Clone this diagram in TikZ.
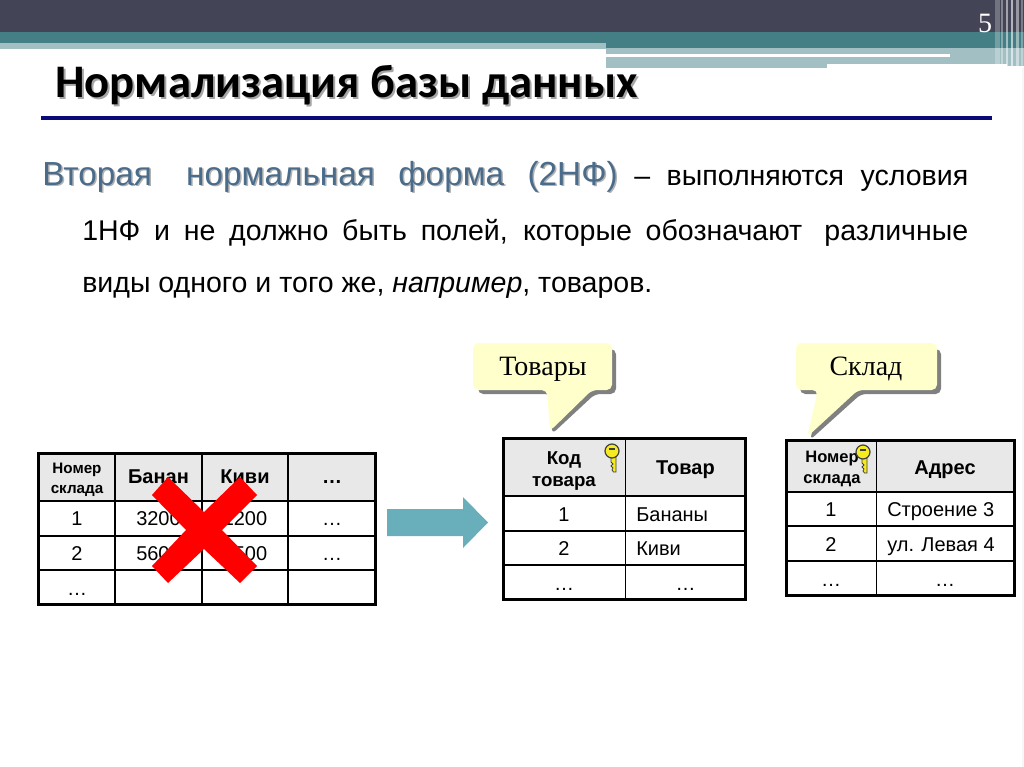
\documentclass[tikz,border=0pt]{standalone}
\usepackage{fontspec}
\setmainfont{Liberation Sans}
\newfontfamily\titlefont{Carlito}
\newfontfamily\serifcyr{Liberation Serif}
\definecolor{darkbar}{HTML}{434557}
\definecolor{tealbar}{HTML}{457F86}
\definecolor{lightteal}{HTML}{A2BFC3}
\definecolor{navyrule}{HTML}{0A0A78}
\definecolor{headtext}{HTML}{4A6C8A}
\definecolor{headfill}{HTML}{E8E8E8}
\definecolor{callfill}{HTML}{FFFFCC}
\definecolor{arrowteal}{HTML}{68AEBB}
\definecolor{keyyellow}{HTML}{F6EA20}
\newcommand{\headsize}{\fontsize{25}{27}\selectfont}
\newcommand{\headwords}{Вторая\hspace{.45em} нормальная\hspace{.12em} форма\hspace{.12em} (2НФ)}
\tikzset{
  x=0.75pt,y=-0.75pt,
  txt/.style={inner sep=0pt,anchor=base},
  cellb/.style={txt,font=\fontsize{15}{17}\selectfont\bfseries},
  cellhb/.style={txt,font=\fontsize{14}{16}\selectfont\bfseries},
  cellr/.style={txt,font=\fontsize{15}{17}\selectfont},
  cellsm/.style={txt,font=\fontsize{11.4}{13}\selectfont\bfseries},
  cellmd/.style={txt,font=\fontsize{12.4}{14}\selectfont\bfseries},
  bodyl/.style={inner sep=0pt,anchor=base west,font=\fontsize{21.4}{24}\selectfont},
  titlet/.style={inner sep=0pt,anchor=base west,font=\titlefont\bfseries\fontsize{35}{38}\selectfont},
  outer/.style={draw=black,line width=2.1pt},
  inner/.style={draw=black,line width=.9pt},
  callout/.style={fill=callfill},
  callshadow/.style={fill=black!50},
  callt/.style={txt,font=\serifcyr\fontsize{21}{24}\selectfont},
}
\newcommand{\keyglyph}[2]{%
  \begin{scope}[shift={(#1,#2)}]
    \draw[black!75,fill=keyyellow,line width=.6pt] (-1,6) -- (4,6) -- (4,21) -- (1.5,21) -- (0,19) -- (1,17) -- (-1,15) -- (1,13) -- (-1,11) -- cycle;
    \draw[black!75,fill=keyyellow,line width=.9pt] (0,0) ellipse (7 and 7);
    \fill[black!75] (-3,-3) rectangle (3,-1.5);
  \end{scope}}
\begin{document}
\begin{tikzpicture}
\useasboundingbox (0,0) rectangle (1024,767);
\fill[white] (0,0) rectangle (1024,767);
\fill[black!3] (1022,68) rectangle (1024,767);
% header bars
\fill[darkbar] (0,0) rectangle (1024,32);
\fill[tealbar] (0,32) rectangle (1024,48);
\fill[lightteal] (0,43) rectangle (606,49);
\fill[lightteal] (606,48) rectangle (1024,68);
\fill[white] (606,54) rectangle (950,57);
\fill[white] (827,64) rectangle (1007,68);
\fill[white] (1007,66) rectangle (1024,68);
\foreach \xx/\ww/\op in {995/5/.25,1001/2/.35,1006/2/.5,1011/2/.6,1016/3/.45,1021/2/.3}
  \fill[white,opacity=\op] (\xx,0) rectangle ++(\ww,66);
\node[txt,text=white,font=\serifcyr\fontsize{21}{23}\selectfont] (pagenum) at (985,33) {5};
% title
\node[titlet,text=black!35] (titleshadow) at (57,99.5) {Нормализация базы данных};
\node[titlet,text=black] (title) at (55,97.5) {Нормализация базы данных};
\fill[navyrule] (41,116) rectangle (992,120);
% body
\node[bodyl,text=black!30] (lineAs) at (43.5,186.5) {\makebox[694.5pt][s]{{\headsize\headwords} \phantom{–} \phantom{выполняются} \phantom{условия}}};
\node[bodyl] (lineA) at (42,185) {\makebox[694.5pt][s]{{\headsize\color{headtext}\headwords} – выполняются условия}};
\node[bodyl] (lineB) at (82,240) {\makebox[664.5pt][s]{1НФ и не должно быть полей, которые обозначают\hspace{.3em} различные}};
\node[bodyl] (lineC) at (82,292) {виды одного и того же, \textit{например}, товаров.};
% left table
\fill[headfill] (38.5,453.5) rectangle (375.5,501);
\foreach \yy in {501,536,570} \draw[inner] (38.5,\yy) -- (375.5,\yy);
\foreach \xx in {115,202,288} \draw[inner] (\xx,453.5) -- (\xx,604.5);
\draw[outer] (38.5,453.5) rectangle (375.5,604.5);
\node[cellsm] (la) at (77,473) {Номер};
\node[cellsm] (lb) at (77,493) {склада};
\node[cellb] (lc) at (158.5,483) {Банан};
\node[cellb] (ld) at (245,483) {Киви};
\node[cellb] (le) at (332,483) {…};
\node[cellr] (l1) at (77,525) {1};
\node[cellr] (l2) at (158.5,525) {3200};
\node[cellr] (l3) at (245,525) {1200};
\node[cellr] (l4) at (332,525) {…};
\node[cellr] (l5) at (77,560) {2};
\node[cellr] (l6) at (158.5,560) {5600};
\node[cellr] (l7) at (245,560) {1500};
\node[cellr] (l8) at (332,560) {…};
\node[cellr] (l9) at (77,595) {…};
% red cross
\fill[red] (168,477) -- (204,512) -- (240,477) -- (257,495) -- (222,530) -- (257,566) -- (240,583) -- (204,549) -- (168,583) -- (152,566) -- (186,530) -- (152,495) -- cycle;
% arrow
\fill[arrowteal] (387,509) -- (463,509) -- (463,497) -- (488,522.5) -- (463,548) -- (463,536) -- (387,536) -- cycle;
% callout Tovary
\fill[callshadow,rounded corners=4pt] (478,349) -- (616,349) -- (616,394) -- (595,394) -- (552,434) -- (551,394) -- (478,394) -- cycle;
\fill[callout,rounded corners=4pt] (473,343) -- (612,343) -- (612,390) -- (592,390) -- (550,431) -- (547,390) -- (473,390) -- cycle;
\node[callt] (ct) at (543,375) {Товары};
% middle table
\fill[headfill] (503.5,438.5) rectangle (745.5,496);
\foreach \yy in {496,531,565} \draw[inner] (503.5,\yy) -- (745.5,\yy);
\draw[inner] (625.5,438.5) -- (625.5,599.5);
\draw[outer] (503.5,438.5) rectangle (745.5,599.5);
\node[cellhb] (ma) at (564,464) {Код};
\node[cellhb] (mb) at (564,486) {товара};
\node[cellb] (mc) at (685.5,474) {Товар};
\keyglyph{612}{451}
\node[cellr] (m1) at (564,521) {1};
\node[cellr,anchor=base west] (m2) at (636,521) {Бананы};
\node[cellr] (m3) at (564,555) {2};
\node[cellr,anchor=base west] (m4) at (636,555) {Киви};
\node[cellr] (m5) at (564,590) {…};
\node[cellr] (m6) at (685.5,590) {…};
% callout Sklad
\fill[callshadow,rounded corners=4pt] (800,349) -- (941,349) -- (941,394) -- (861,394) -- (810,440) -- (822,394) -- (800,394) -- cycle;
\fill[callout,rounded corners=4pt] (796,343) -- (937,343) -- (937,390) -- (858,390) -- (807,437) -- (818,390) -- (796,390) -- cycle;
\node[callt] (cs) at (866,375) {Склад};
% right table
\fill[headfill] (786.5,440.5) rectangle (1014.5,492);
\foreach \yy in {492,526,561} \draw[inner] (786.5,\yy) -- (1014.5,\yy);
\draw[inner] (876.5,440.5) -- (876.5,595.5);
\draw[outer] (786.5,440.5) rectangle (1014.5,595.5);
\node[cellmd] (ra) at (832,462) {Номер};
\node[cellmd] (rb) at (832,483) {склада};
\node[cellb] (rc) at (945,474) {Адрес};
\keyglyph{863}{452}
\node[cellr] (r1) at (831,516) {1};
\node[cellr,anchor=base west] (r2) at (887,516) {Строение 3};
\node[cellr] (r3) at (831,551) {2};
\node[cellr,anchor=base west] (r4) at (887,551) {ул. Левая 4};
\node[cellr] (r5) at (831,586) {…};
\node[cellr] (r6) at (945,586) {…};
\end{tikzpicture}
\end{document}
